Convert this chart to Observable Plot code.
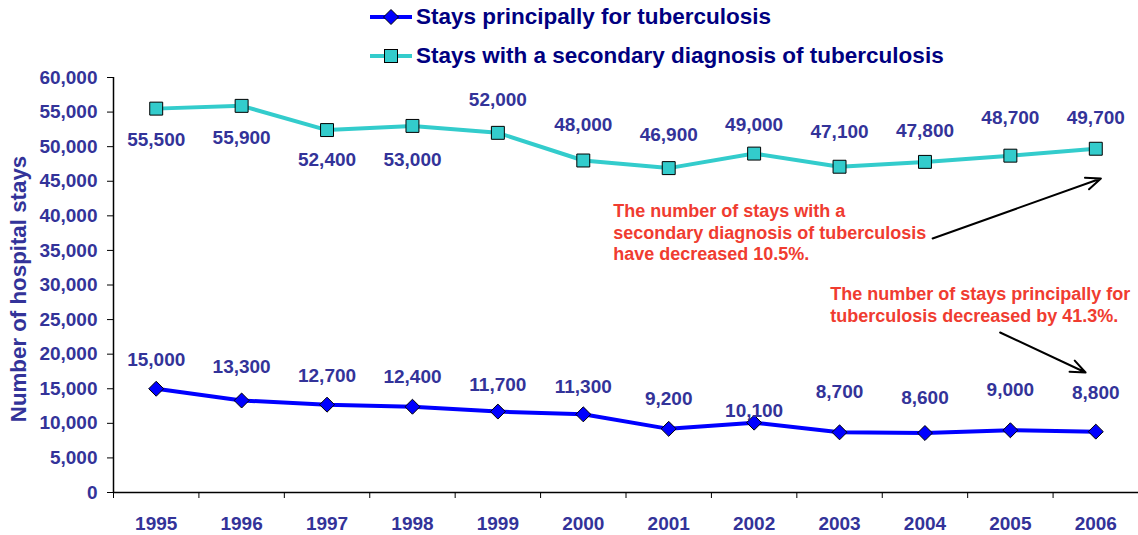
<!DOCTYPE html>
<html><head><meta charset="utf-8">
<script src="https://cdn.jsdelivr.net/npm/d3@7"></script>
<script src="https://cdn.jsdelivr.net/npm/@observablehq/plot@0.6"></script>
<style>
body{margin:0;background:#fff;font-family:"Liberation Sans",Arial,sans-serif;}
#legend{position:relative;height:62px;width:1138px;}
.row{position:absolute;left:368px;height:30px;display:flex;align-items:center;font-weight:bold;font-size:22.5px;color:#000080;white-space:nowrap;}
.row svg{margin-right:2px;}
</style></head><body>
<div id="legend"></div><div id="chart"></div>
<script>
const years = [1995,1996,1997,1998,1999,2000,2001,2002,2003,2004,2005,2006];
const principal = [15000,13300,12700,12400,11700,11300,9200,10100,8700,8600,9000,8800];
const secondary = [55500,55900,52400,53000,52000,48000,46900,49000,47100,47800,48700,49700];
const principalLabelDy = [-29,-34,-29,-30,-27,-27,-30,-12,-40,-35,-40,-39];
const secondaryLabelDy = [31,32,30,34,-33,-36,-33,-29,-35,-31,-38,-31];
const yTicks = [0,5000,10000,15000,20000,25000,30000,35000,40000,45000,50000,55000,60000];
const seriesNames = ["Stays principally for tuberculosis","Stays with a secondary diagnosis of tuberculosis"];
const annotations = [
  {year:2000.35, value:37735, text:"The number of stays with a\nsecondary diagnosis of tuberculosis\nhave decreased 10.5%."},
  {year:2002.89, value:27250, text:"The number of stays principally for\ntuberculosis decreased by 41.3%."}
];
const arrows = [
  {x1:2004.09, y1:36720, x2:2006.06, y2:45400},
  {x1:2004.88, y1:23130, x2:2005.88, y2:17350}
];

const blue = "#0000ff", cyan = "#33cccc", labelColor = "#333399", red = "#f03c30";
const fmt = d3.format(",");
const pData = years.map((y,i)=>({year:y, value:principal[i], dy:principalLabelDy[i]}));
const sData = years.map((y,i)=>({year:y, value:secondary[i], dy:secondaryLabelDy[i]}));
const halfYears = years.map(y=>y-0.5).concat([years[years.length-1]+0.5]);

// legend
const legend = document.getElementById("legend");
const sw = [
  `<svg width="46" height="20"><line x1="2" y1="10" x2="44" y2="10" stroke="${blue}" stroke-width="4"/><path d="M23,2.5L30.5,10L23,17.5L15.5,10Z" fill="${blue}" stroke="black"/></svg>`,
  `<svg width="46" height="20"><line x1="2" y1="10" x2="44" y2="10" stroke="${cyan}" stroke-width="4"/><rect x="16.5" y="3.5" width="13" height="13" fill="${cyan}" stroke="black"/></svg>`
];
[2, 41].forEach((top,i)=>{
  const r = document.createElement("div");
  r.className="row"; r.style.top = top+"px";
  r.innerHTML = sw[i] + `<span>${seriesNames[i]}</span>`;
  legend.appendChild(r);
});

const chart = Plot.plot({
  width:1138, height:473, marginTop:15, marginBottom:43, marginLeft:113, marginRight:0,
  x:{type:"linear", domain:[years[0]-0.5, years[years.length-1]+0.5]},
  y:{domain:[0,60000]},
  style:{fontFamily:"'Liberation Sans', Arial, sans-serif", fontWeight:"bold", background:"white", overflow:"visible"},
  marks:[
    Plot.axisY({ticks:yTicks, tickFormat:fmt, tickSize:6, tickPadding:10, fontSize:19, fill:labelColor, stroke:"black", label:null}),
    Plot.axisX({ticks:years, tickFormat:d=>String(d), tickSize:0, tickPadding:24, fontSize:19, fill:labelColor, label:null}),
    Plot.axisX({ticks:halfYears, tickFormat:()=>"", tickSize:6, stroke:"black", label:null}),
    Plot.ruleY([0], {stroke:"black", strokeWidth:1.5}),
    Plot.ruleX([years[0]-0.5], {stroke:"black", strokeWidth:1.5}),
    Plot.line(sData, {x:"year", y:"value", stroke:cyan, strokeWidth:4}),
    Plot.line(pData, {x:"year", y:"value", stroke:blue, strokeWidth:4}),
    Plot.dot(sData, {x:"year", y:"value", symbol:"square", r:7.3, fill:cyan, stroke:"black", strokeWidth:1}),
    Plot.dot(pData, {x:"year", y:"value", symbol:"diamond2", r:6.75, fill:blue, stroke:"black", strokeWidth:1}),
    ...sData.map(d=>Plot.text([d], {x:"year", y:"value", text:d=>fmt(d.value), dy:d.dy, fontSize:19, fill:labelColor})),
    ...pData.map(d=>Plot.text([d], {x:"year", y:"value", text:d=>fmt(d.value), dy:d.dy, fontSize:19, fill:labelColor})),
    Plot.text(annotations, {x:"year", y:"value", text:"text", textAnchor:"start", lineAnchor:"middle", lineHeight:1.22, fontSize:18, fill:red}),
    Plot.arrow(arrows, {x1:"x1", y1:"y1", x2:"x2", y2:"y2", stroke:"black", strokeWidth:2, headLength:12, headAngle:45}),
    Plot.text(["Number of hospital stays"], {frameAnchor:"left", textAnchor:"middle", rotate:-90, dx:-95, dy:4, fontSize:22.3, fill:labelColor})
  ]
});
document.getElementById("chart").appendChild(chart);
</script>
</body></html>
